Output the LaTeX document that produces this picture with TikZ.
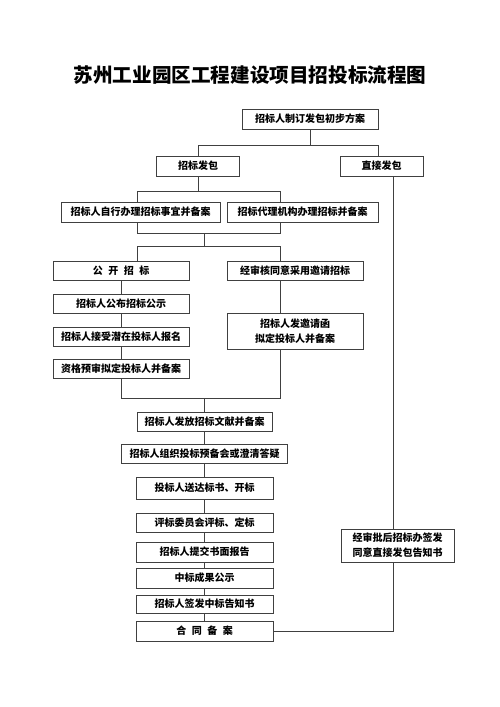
\documentclass[tikz,border=0pt]{standalone}
\usepackage{fontspec}
\newfontfamily\cjk{Noto Sans CJK SC}
\begin{document}
\begin{tikzpicture}[x=1pt,y=-1pt,
  box/.style={draw=black!75,line width=0.8pt,inner sep=0pt,minimum height=20pt,
    font=\cjk\bfseries\fontsize{10}{15}\selectfont,align=center,text=black},
  conn/.style={draw=black!75,line width=0.8pt}]
\useasboundingbox (0,0) rectangle (500,707);
\node[font=\cjk\bfseries\fontsize{19.6}{22}\selectfont] (title) at (250,75) {苏州工业园区工程建设项目招投标流程图};

\node[box,minimum width=136pt] (top) at (310,119) {招标人制订发包初步方案};
\node[box,minimum width=83pt] (fb) at (198,166) {招标发包};
\node[box,minimum width=83pt] (zj) at (381.5,166) {直接发包};
\node[box,minimum width=159pt] (zx) at (140.5,212) {招标人自行办理招标事宜并备案};
\node[box,minimum width=151pt] (dl) at (302.5,212) {招标代理机构办理招标并备案};
\node[box,minimum width=136pt,minimum height=19pt] (gk) at (121,270.5) {公\hspace{5.5pt}开\hspace{5.5pt}招\hspace{5.5pt}标};
\node[box,minimum width=136pt,minimum height=19pt] (gb) at (121,303.5) {招标人公布招标公示};
\node[box,minimum width=136pt,minimum height=19pt] (js) at (121,336.5) {招标人接受潜在投标人报名};
\node[box,minimum width=136pt,minimum height=19pt] (zg) at (121,368.5) {资格预审拟定投标人并备案};
\node[box,minimum width=136pt,minimum height=19pt] (yq) at (295,270.5) {经审核同意采用邀请招标};
\node[box,minimum width=136pt,minimum height=36pt] (fy) at (295,331) {招标人发邀请函\\拟定投标人并备案};
\node[box,minimum width=135pt,minimum height=19pt] (ff) at (204.5,421.5) {招标人发放招标文献并备案};
\node[box,minimum width=166pt,minimum height=19pt] (zz) at (204.5,453.5) {招标人组织投标预备会或澄清答疑};
\node[box,minimum width=137pt,minimum height=22pt] (sd) at (204.5,488) {投标人送达标书、开标};
\node[box,minimum width=137pt,minimum height=19pt] (pb) at (204.5,522.5) {评标委员会评标、定标};
\node[box,minimum width=137pt] (tj) at (204.5,552) {招标人提交书面报告};
\node[box,minimum width=137pt] (gs) at (204.5,578) {中标成果公示};
\node[box,minimum width=137pt,minimum height=18pt] (qf) at (204.5,604) {招标人签发中标告知书};
\node[box,minimum width=137pt] (ht) at (204.5,631) {合\hspace{5.5pt}同\hspace{5.5pt}备\hspace{5.5pt}案};
\node[box,minimum width=113pt,minimum height=33pt] (jp) at (397.5,545.5) {经审批后招标办签发\\同意直接发包告知书};

\coordinate (m1) at (204,233);
\coordinate (m2) at (204,247);

\draw[conn] (top.south) -- ++(0,17);
\draw[conn] (fb.north) -- ++(0,-10) -| ([xshift=-3.5pt]zj.north);
\draw[conn] ([xshift=11.5pt]zj.south) -- ([xshift=-4.5pt]jp.north);
\draw[conn] ([xshift=-4.5pt]jp.south) |- (ht.east);
\draw[conn] (fb.south) -- ++(0,16);
\draw[conn] ([xshift=-3.5pt]zx.north) -- ++(0,-10) -| ([xshift=-22.5pt]dl.north);
\draw[conn] ([xshift=-3.5pt]zx.south) -- ++(0,11) -| ([xshift=-22.5pt]dl.south);
\draw[conn] (m1) -- (m2);
\draw[conn] ([xshift=16pt]gk.north) -- ++(0,-14) -| ([xshift=-15pt]yq.north);
\draw[conn] (gk) -- (gb);
\draw[conn] (gb) -- (js);
\draw[conn] (js) -- (zg);
\draw[conn] ([xshift=-15pt]yq.south) -- ([xshift=-15pt]fy.north);
\draw[conn] (zg.south) -- ++(0,20) -| ([xshift=-15pt]fy.south);
\draw[conn] (ff.north) -- ++(0,-14);
\draw[conn] (ff) -- (zz);
\draw[conn] (zz) -- (sd);
\draw[conn] (sd) -- (pb);
\draw[conn] (pb) -- (tj);
\draw[conn] (tj) -- (gs);
\draw[conn] (gs) -- (qf);
\draw[conn] (qf) -- (ht);
\end{tikzpicture}
\end{document}
